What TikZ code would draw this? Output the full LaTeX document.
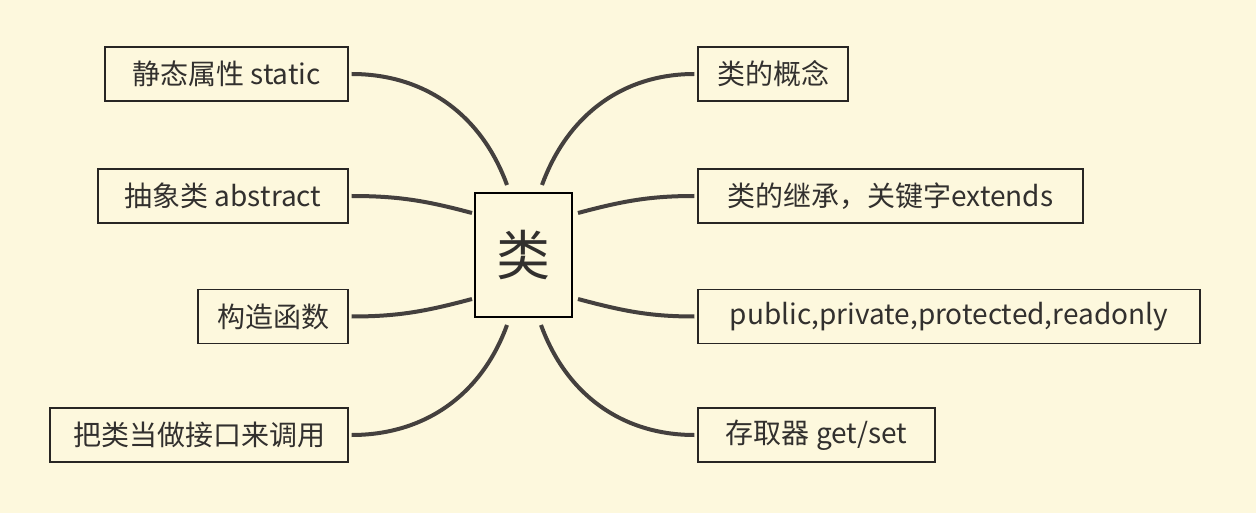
\documentclass[tikz,border=0pt]{standalone}
\usepackage{fontspec}
\setmainfont{Noto Sans CJK SC}
\definecolor{bg}{RGB}{253,248,221}
\definecolor{linkc}{RGB}{68,64,62}
\definecolor{boxc}{RGB}{40,38,36}
\definecolor{txt}{RGB}{50,48,46}
\begin{document}
\begin{tikzpicture}[x=1pt,y=-1pt,
  leaf/.style={draw=boxc, line width=1.2pt, minimum height=54pt, inner sep=0pt, font=\fontsize{28}{32}\selectfont, text=txt},
  hub/.style={draw=black, line width=2.4pt, minimum width=97pt, minimum height=124pt, inner sep=0pt, font=\fontsize{54}{60}\selectfont, text=txt},
  link/.style={draw=linkc, line width=4pt, shorten <=3pt}]
\fill[bg] (0,0) rectangle (1256,513);
\useasboundingbox (0,0) rectangle (1256,513);
% center
\node[hub] (c) at (523.5,255) {类};
% left leaves
\node[leaf, minimum width=243pt] (s1) at (226.5,74) {静态属性 static};
\node[leaf, minimum width=250pt] (s2) at (223,196) {抽象类 abstract};
\node[leaf, minimum width=150pt] (s3) at (273,316.5) {构造函数};
\node[leaf, minimum width=298pt] (s4) at (199,435) {把类当做接口来调用};
% right leaves
\node[leaf, minimum width=150pt] (r1) at (773,74) {类的概念};
\node[leaf, minimum width=385pt] (r2) at (890.5,196) {类的继承，关键字extends};
\node[leaf, minimum width=502pt] (r3) at (949,316.5) {public,private,protected,readonly};
\node[leaf, minimum width=237pt] (r4) at (816.5,435) {存取器 get/set};
% anchor points near center
\coordinate (c1) at (507,185);
\coordinate (c2) at (472,213);
\coordinate (c3) at (472,299);
\coordinate (c4) at (507,325);
\coordinate (c5) at (542,185);
\coordinate (c6) at (578,213);
\coordinate (c7) at (578,299);
\coordinate (c8) at (541,325);
% connectors
\draw[link] (s1.east) to[out=0,in=110] (c1);
\draw[link] (s2.east) to[out=0,in=165] (c2);
\draw[link] (s3.east) to[out=0,in=195] (c3);
\draw[link] (s4.east) to[out=0,in=-110] (c4);
\draw[link] (r1.west) to[out=180,in=70] (c5);
\draw[link] (r2.west) to[out=180,in=15] (c6);
\draw[link] (r3.west) to[out=180,in=-15] (c7);
\draw[link] (r4.west) to[out=180,in=-70] (c8);
\end{tikzpicture}
\end{document}
